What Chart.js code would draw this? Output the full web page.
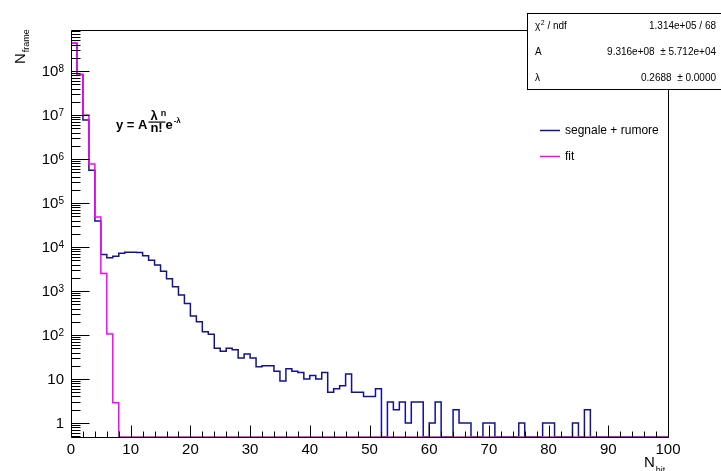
<!DOCTYPE html>
<html>
<head>
<meta charset="utf-8">
<script src="https://cdn.jsdelivr.net/npm/chart.js@4/dist/chart.umd.min.js"></script>
<style>
  html, body { margin: 0; padding: 0; background: #fff; }
  canvas { display: block; }
</style>
</head>
<body>
<canvas id="hist" width="721" height="471"></canvas>
<script>
// N_hit bins (low edges), width 1
const binLow = [...Array(100).keys()];

// measured spectrum: segnale + rumore
const segnaleRumore = [
    4.3e8, 8.4e7, 7.7e6, 5.6e5, 3.9e4, 6800, 5700, 6200, 7200, 7600,
    7600, 7500, 6300, 5000, 3900, 2800, 1900, 1250, 810, 520,
    270, 200, 119, 104, 50, 43, 50, 46, 30, 37,
    30, 19, 20, 20, 15, 9, 17, 15, 14, 10,
    12, 10, 14, 5, 6, 7, 13, 5, 5, 4,
    4, 6, 0, 3, 2, 3, 1, 3, 3, 0,
    1, 3, 0, 0, 2, 1, 1, 0, 0, 1,
    1, 0, 0, 0, 0, 1, 0, 0, 0, 1,
    1, 0, 0, 0, 1, 0, 2, 0, 0, 0,
    0, 0, 0, 0, 0, 0, 0, 0, 0, 0,
];

// poisson fit, filled as histogram
const fitValues = [
    4.3e8, 8.4e7, 1.0e7, 7.7e5, 4.8e4, 2500, 105, 2.9, 0, 0,
    0, 0, 0, 0, 0, 0, 0, 0, 0, 0,
    0, 0, 0, 0, 0, 0, 0, 0, 0, 0,
    0, 0, 0, 0, 0, 0, 0, 0, 0, 0,
    0, 0, 0, 0, 0, 0, 0, 0, 0, 0,
    0, 0, 0, 0, 0, 0, 0, 0, 0, 0,
    0, 0, 0, 0, 0, 0, 0, 0, 0, 0,
    0, 0, 0, 0, 0, 0, 0, 0, 0, 0,
    0, 0, 0, 0, 0, 0, 0, 0, 0, 0,
    0, 0, 0, 0, 0, 0, 0, 0, 0, 0,
];

const xMajorTicks = [0, 10, 20, 30, 40, 50, 60, 70, 80, 90, 100];
const yDecades = [0, 1, 2, 3, 4, 5, 6, 7, 8];

const statRows = [
    ["χ", " / ndf", "1.314e+05 / 68"],
    ["A", "", "9.316e+08  ± 5.712e+04"],
    ["λ", "", "0.2688  ± 0.0000"],
];

const yMin = 0.48;
const yMax = 8.6e8;
const font = "Liberation Sans, Arial, Helvetica, sans-serif";
const blue = "#11119c";
const magenta = "#ff00ff";

// histogram outline: a point at each bin low edge (plus the last upper edge),
// empty bins lie on the frame bottom
function toSteps(values) {
    const floor = v => (v > 0 ? v : yMin);
    const pts = [{ x: binLow[0], y: yMin }];
    values.forEach((v, i) => pts.push({ x: binLow[i], y: floor(v) }));
    pts.push({ x: binLow[binLow.length - 1] + 1, y: floor(values[values.length - 1]) });
    return pts;
}

function supText(ctx, base, sup, xRight, y, size, supSize) {
    ctx.font = supSize + "px " + font;
    const ws = ctx.measureText(sup).width;
    ctx.font = size + "px " + font;
    ctx.textAlign = "right";
    ctx.textBaseline = "middle";
    ctx.fillText(base, xRight - ws, y);
    ctx.font = supSize + "px " + font;
    ctx.textAlign = "left";
    ctx.textBaseline = "alphabetic";
    ctx.fillText(sup, xRight - ws, y);
}

const rootFrame = {
    id: "rootFrame",
    afterDraw(chart) {
        const ctx = chart.ctx;
        const xs = chart.scales.x;
        const ys = chart.scales.y;
        const a = chart.chartArea;
        ctx.save();
        ctx.strokeStyle = "#000";
        ctx.fillStyle = "#000";
        ctx.lineWidth = 1;

        // frame
        ctx.beginPath();
        ctx.rect(Math.round(a.left) + 0.5, Math.round(a.top) + 0.5,
            Math.round(a.right - a.left), Math.round(a.bottom - a.top));
        ctx.stroke();

        // x ticks: major every 10, minor every 2
        const yb = Math.round(a.bottom) + 0.5;
        ctx.beginPath();
        for (let v = 0; v <= 100; v += 2) {
            const px = Math.round(xs.getPixelForValue(v)) + 0.5;
            const len = v % 10 === 0 ? 12 : 6;
            ctx.moveTo(px, yb);
            ctx.lineTo(px, yb - len);
        }
        ctx.stroke();
        ctx.font = "15px " + font;
        ctx.textAlign = "center";
        ctx.textBaseline = "alphabetic";
        xMajorTicks.forEach(v => {
            ctx.fillText(String(v), xs.getPixelForValue(v), 454);
        });

        // y ticks: decades plus 2..9 minors
        const xl = Math.round(a.left) + 0.5;
        ctx.beginPath();
        for (let k = -1; k <= 8; k++) {
            for (let m = 1; m <= 9; m++) {
                const v = m * Math.pow(10, k);
                if (v < yMin || v > yMax) continue;
                const py = Math.round(ys.getPixelForValue(v)) + 0.5;
                const len = m === 1 ? 18 : 9;
                ctx.moveTo(xl, py);
                ctx.lineTo(xl + len, py);
            }
        }
        ctx.stroke();
        yDecades.forEach(k => {
            const py = ys.getPixelForValue(Math.pow(10, k));
            if (k === 0 || k === 1) {
                ctx.font = "15px " + font;
                ctx.textAlign = "right";
                ctx.textBaseline = "middle";
                ctx.fillText(k === 0 ? "1" : "10", 64, py + 1);
            } else {
                supText(ctx, "10", String(k), 64, py + 1, 15, 10);
            }
        });

        // axis titles
        ctx.textAlign = "left";
        ctx.textBaseline = "alphabetic";
        ctx.font = "15px " + font;
        ctx.fillText("N", 644, 467);
        const nw = ctx.measureText("N").width;
        ctx.font = "9px " + font;
        ctx.fillText("hit", 644 + nw + 1, 473);

        ctx.save();
        ctx.translate(25, 64);
        ctx.rotate(-Math.PI / 2);
        ctx.font = "15px " + font;
        ctx.fillText("N", 0, 0);
        const nw2 = ctx.measureText("N").width;
        ctx.font = "9px " + font;
        ctx.fillText("frame", nw2 + 1, 4);
        ctx.restore();

        // formula  y = A λ^n / n! e^-λ
        ctx.font = "bold 13px " + font;
        ctx.fillText("y = A", 116, 129);
        const fx = 116 + ctx.measureText("y = A").width + 1;
        ctx.fillText("λ", fx + 2, 120);
        const lw = ctx.measureText("λ").width;
        ctx.font = "bold 9px " + font;
        ctx.fillText("n", fx + 3 + lw + 2, 116);
        ctx.fillRect(fx, 121.5, 17, 1.2);
        ctx.font = "bold 13px " + font;
        ctx.fillText("n!", fx + 2, 132);
        ctx.fillText("e", fx + 17, 129);
        const ew = ctx.measureText("e").width;
        ctx.font = "bold 8px " + font;
        ctx.fillText("-λ", fx + 17 + ew + 1, 123);

        // legend
        ctx.lineWidth = 1.5;
        ctx.strokeStyle = blue;
        ctx.beginPath();
        ctx.moveTo(540, 130.5);
        ctx.lineTo(560, 130.5);
        ctx.stroke();
        ctx.strokeStyle = magenta;
        ctx.beginPath();
        ctx.moveTo(540, 156.5);
        ctx.lineTo(560, 156.5);
        ctx.stroke();
        ctx.font = "12px " + font;
        ctx.textBaseline = "middle";
        ctx.fillStyle = "#000";
        ctx.fillText(chart.data.datasets[1].label, 565, 131);
        ctx.fillText(chart.data.datasets[0].label, 565, 157);

        // fit statistics box
        ctx.lineWidth = 1;
        ctx.strokeStyle = "#000";
        ctx.fillStyle = "#fff";
        ctx.fillRect(527, 13, 200, 76);
        ctx.strokeRect(527.5, 13.5, 200, 76);
        ctx.fillStyle = "#000";
        const rowY = [26, 52, 78.5];
        statRows.forEach((r, i) => {
            ctx.font = "10px " + font;
            ctx.textAlign = "left";
            ctx.textBaseline = "middle";
            ctx.fillText(r[0], 535, rowY[i]);
            let off = 535 + ctx.measureText(r[0]).width;
            if (i === 0) {
                ctx.font = "7px " + font;
                ctx.textBaseline = "alphabetic";
                ctx.fillText("2", off + 0.5, rowY[i] - 1);
                off += ctx.measureText("2").width + 0.5;
                ctx.font = "10px " + font;
                ctx.textBaseline = "middle";
            }
            ctx.fillText(r[1], off, rowY[i]);
            ctx.textAlign = "right";
            ctx.fillText(r[2], 716, rowY[i]);
        });
        ctx.restore();
    },
};

new Chart(document.getElementById("hist"), {
    type: "line",
    data: {
        datasets: [
            {
                label: "fit",
                data: toSteps(fitValues),
                borderColor: magenta,
                order: 0,
            },
            {
                label: "segnale + rumore",
                data: toSteps(segnaleRumore),
                borderColor: blue,
                order: 1,
            },
        ],
    },
    options: {
        responsive: false,
        animation: false,
        layout: { padding: { left: 71, right: 53, top: 30, bottom: 34 } },
        scales: {
            x: { type: "linear", min: 0, max: 100, display: false },
            y: { type: "logarithmic", min: yMin, max: yMax, display: false },
        },
        elements: {
            point: { radius: 0 },
            line: { borderWidth: 1.5, stepped: "before", fill: false },
        },
        plugins: {
            legend: { display: false },
            tooltip: { enabled: false },
        },
    },
    plugins: [rootFrame],
});
</script>
</body>
</html>
